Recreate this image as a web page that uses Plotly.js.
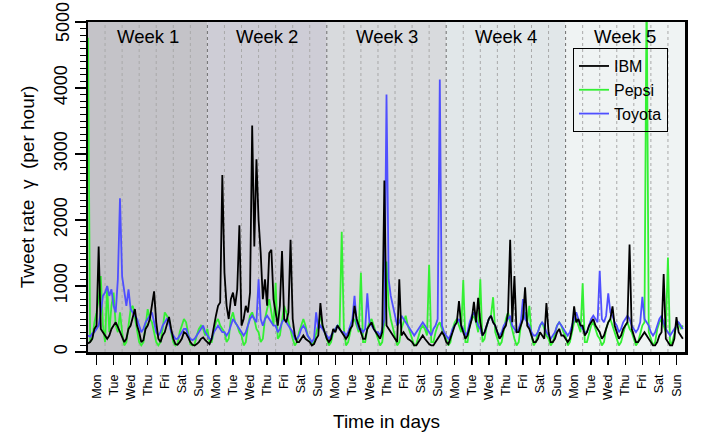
<!DOCTYPE html>
<html>
<head>
<meta charset="utf-8">
<script src="https://cdn.plot.ly/plotly-3.0.1.min.js"></script>
<style>
html, body { margin: 0; padding: 0; background: #fff; }
#chart { width: 706px; height: 441px; }
</style>
</head>
<body>
<div id="chart"></div>
<script>
// Hourly tweet rates sampled every 3 hours (8 samples per day), 35 days
var hoursPerSample = 3;
var dayNames = ['Mon', 'Tue', 'Wed', 'Thu', 'Fri', 'Sat', 'Sun'];
var weekLabels = ['Week 1', 'Week 2', 'Week 3', 'Week 4', 'Week 5'];
var weekColors = ['#c4c3c8', '#cecdd6', '#d8dadd', '#e1e7e9', '#eff3f3'];
var yTickVals = [0, 1000, 2000, 3000, 4000, 5000];
var yTickText = ['0', '1000', '2000', '3000', '4000', '5000'];

var ibm = [
  130, 150, 200, 350, 400, 1600, 350, 300,
  250, 200, 250, 350, 400, 450, 380, 300,
  250, 150, 200, 350, 400, 550, 650, 400,
  300, 150, 180, 350, 400, 500, 700, 920,
  450, 200, 150, 250, 300, 400, 530, 350,
  200, 120, 110, 150, 200, 300, 280, 220,
  150, 110, 100, 120, 150, 200, 220, 180,
  150, 120, 200, 400, 550, 700, 750, 2680,
  1200, 700, 500, 800, 900, 700, 950, 1920,
  400, 500, 700, 600, 900, 3430, 1600, 2920,
  2000, 1500, 800, 1100, 700, 1500, 1550, 800,
  600, 400, 700, 1530, 500, 450, 600, 1700,
  500, 250, 150, 150, 200, 250, 200, 180,
  150, 100, 120, 200, 250, 740, 400, 300,
  200, 150, 200, 350, 300, 400, 350, 300,
  250, 200, 250, 350, 400, 700, 500, 400,
  300, 200, 200, 350, 400, 450, 350, 300,
  250, 200, 300, 2600, 400, 350, 300, 250,
  200, 150, 1100, 250, 300, 250, 200, 180,
  150, 100, 100, 150, 200, 250, 200, 150,
  120, 100, 100, 150, 200, 250, 300, 250,
  150, 120, 200, 300, 400, 450, 770, 400,
  300, 200, 250, 400, 500, 760, 450, 820,
  450, 250, 300, 400, 500, 550, 450, 400,
  300, 200, 250, 350, 400, 600, 1700, 450,
  1150, 300, 300, 400, 500, 980, 400, 350,
  250, 150, 150, 200, 300, 250, 200, 740,
  300, 150, 150, 200, 300, 350, 250, 250,
  200, 150, 200, 350, 690, 450, 500, 400,
  400, 250, 300, 400, 450, 500, 400, 350,
  300, 200, 250, 350, 450, 500, 690, 400,
  300, 200, 250, 350, 400, 450, 1630, 350,
  250, 150, 150, 200, 250, 300, 250, 200,
  150, 100, 100, 150, 250, 300, 1180, 200,
  150, 100, 100, 200, 530, 300, 250, 200
];

var pepsi = [
  4760, 150, 200, 450, 600, 800, 1150, 400,
  150, 1000, 300, 700, 900, 400, 300, 600,
  300, 100, 150, 400, 650, 700, 500, 300,
  150, 100, 150, 400, 650, 500, 450, 300,
  150, 100, 150, 350, 600, 550, 500, 300,
  150, 100, 120, 300, 400, 500, 450, 250,
  120, 100, 120, 250, 350, 400, 350, 250,
  350, 150, 150, 300, 450, 500, 400, 350,
  300, 150, 200, 500, 600, 450, 400, 300,
  250, 100, 150, 400, 550, 600, 500, 350,
  300, 150, 200, 500, 650, 800, 600, 400,
  1050, 200, 250, 500, 700, 600, 450, 300,
  200, 100, 150, 300, 400, 500, 400, 250,
  200, 100, 150, 300, 450, 550, 400, 300,
  200, 100, 150, 300, 350, 400, 350, 1820,
  350, 100, 150, 300, 450, 500, 400, 300,
  1200, 150, 150, 350, 450, 500, 400, 300,
  200, 100, 150, 450, 1370, 700, 500, 350,
  250, 100, 150, 350, 450, 550, 400, 300,
  200, 100, 120, 250, 350, 400, 350, 250,
  1320, 150, 150, 300, 400, 450, 350, 250,
  200, 100, 150, 350, 450, 500, 400, 300,
  1090, 150, 150, 400, 500, 550, 450, 300,
  1100, 150, 200, 400, 500, 550, 830, 300,
  200, 100, 150, 350, 500, 600, 450, 300,
  200, 100, 150, 400, 550, 600, 450, 700,
  250, 100, 150, 300, 400, 450, 350, 250,
  200, 100, 150, 300, 400, 450, 400, 300,
  250, 100, 150, 300, 450, 500, 400, 300,
  1040, 150, 150, 300, 400, 450, 350, 250,
  200, 100, 150, 350, 450, 500, 400, 300,
  200, 100, 150, 300, 400, 450, 350, 300,
  200, 100, 150, 300, 400, 450, 5600, 300,
  200, 100, 150, 350, 450, 500, 400, 300,
  1430, 100, 150, 300, 400, 450, 350, 400
];

var toyota = [
  250, 230, 280, 300, 350, 400, 600, 850,
  900, 1000, 850, 950, 700, 600, 1100, 2330,
  1150, 900, 700, 950, 650, 600, 550, 500,
  400, 300, 350, 450, 500, 550, 600, 450,
  300, 250, 300, 400, 450, 500, 450, 300,
  250, 200, 200, 250, 300, 350, 350, 250,
  200, 180, 200, 250, 300, 350, 400, 300,
  250, 200, 200, 300, 350, 400, 350, 300,
  300, 250, 300, 400, 500, 450, 400, 350,
  300, 250, 300, 400, 500, 550, 500, 450,
  1100, 500, 400, 500, 550, 500, 450, 400,
  400, 300, 350, 450, 500, 450, 400, 350,
  300, 200, 200, 250, 350, 400, 350, 250,
  200, 150, 200, 600, 350, 400, 350, 300,
  250, 200, 250, 300, 350, 400, 350, 300,
  300, 250, 300, 400, 500, 850, 450, 350,
  350, 300, 350, 890, 450, 400, 350, 300,
  300, 250, 350, 500, 3900, 1100, 850, 700,
  600, 400, 450, 550, 500, 450, 400, 350,
  300, 250, 300, 350, 400, 450, 400, 350,
  300, 250, 350, 400, 500, 4130, 400, 300,
  250, 200, 250, 350, 400, 450, 500, 400,
  350, 250, 300, 450, 550, 600, 500, 400,
  350, 250, 300, 400, 500, 550, 450, 400,
  300, 250, 300, 400, 450, 500, 550, 400,
  350, 300, 350, 450, 800, 500, 450, 400,
  300, 250, 250, 300, 400, 450, 400, 300,
  250, 200, 250, 300, 400, 450, 400, 350,
  300, 250, 300, 400, 500, 600, 500, 400,
  350, 300, 300, 400, 500, 550, 500, 450,
  1230, 500, 450, 550, 890, 600, 550, 450,
  400, 300, 350, 450, 500, 550, 500, 400,
  350, 300, 350, 450, 835, 500, 450, 400,
  300, 250, 300, 400, 500, 550, 450, 350,
  300, 250, 300, 350, 400, 450, 400, 350
];

var nDays = weekLabels.length * dayNames.length;
function timeAxis(values) {
  return values.map(function (v, i) { return i * hoursPerSample / 24; });
}

var tickVals = [], tickText = [];
for (var d = 0; d < nDays; d++) {
  tickVals.push(d + 0.5);
  tickText.push(dayNames[d % 7]);
}

var FONT = 'Liberation Sans, Arial, Helvetica, sans-serif';

var traces = [
  { x: timeAxis(pepsi), y: pepsi, name: 'Pepsi', type: 'scatter', mode: 'lines',
    line: { color: '#33f033', width: 1.8 }, legendrank: 2 },
  { x: timeAxis(toyota), y: toyota, name: 'Toyota', type: 'scatter', mode: 'lines',
    line: { color: '#4f4fff', width: 1.8 }, legendrank: 3 },
  { x: timeAxis(ibm), y: ibm, name: 'IBM', type: 'scatter', mode: 'lines',
    line: { color: '#000000', width: 1.8 }, legendrank: 1 }
];

var shapes = [];
var annotations = [];
weekLabels.forEach(function (lbl, w) {
  shapes.push({ type: 'rect', xref: 'x', yref: 'paper', x0: w * 7, x1: (w + 1) * 7, y0: 0, y1: 1,
    fillcolor: weekColors[w], line: { width: 0 }, layer: 'below' });
  annotations.push({ x: w * 7 + 3.5, y: 0.955, xref: 'x', yref: 'paper', text: lbl, showarrow: false,
    xanchor: 'center', yanchor: 'middle', font: { family: FONT, size: 18.5, color: '#000' } });
});
for (var b = 1; b < nDays; b++) {
  var isWeek = (b % 7 === 0);
  shapes.push({ type: 'line', xref: 'x', yref: 'paper', x0: b, x1: b, y0: 0, y1: 1, layer: 'below',
    line: { color: isWeek ? '#6e6e6e' : '#a9a9a9', width: 1, dash: 'dot' } });
}

// The top y tick label sits on the plot edge, where Plotly drops it; draw it as text at its tick value.
var axisTickText = yTickText.slice();
var topIdx = yTickVals.length - 1;
axisTickText[topIdx] = '';
annotations.push({ x: -0.0419, xref: 'paper', y: yTickVals[topIdx], yref: 'y', text: yTickText[topIdx],
  showarrow: false, textangle: -90, xanchor: 'center', yanchor: 'middle',
  font: { family: FONT, size: 18, color: '#000' } });

var layout = {
  width: 706, height: 441,
  margin: { l: 88, r: 21, t: 22, b: 89 },
  paper_bgcolor: '#ffffff', plot_bgcolor: '#ffffff',
  font: { family: FONT, color: '#000' },
  showlegend: true,
  legend: { x: 0.8124, y: 0.921, xanchor: 'left', yanchor: 'top', bgcolor: 'rgba(0,0,0,0)',
    bordercolor: '#000', borderwidth: 1, font: { family: FONT, size: 16 }, tracegroupgap: 0 },
  xaxis: {
    range: [0, nDays], showgrid: false, zeroline: false,
    tickmode: 'array', tickvals: tickVals, ticktext: tickText, tickangle: -90,
    ticks: 'outside', ticklen: 10, tickwidth: 1.5, tickcolor: '#000',
    ticklabelstandoff: 5,
    tickfont: { family: FONT, size: 12.5 },
    showline: true, mirror: true, linewidth: 2.5, linecolor: '#000',
    title: { text: 'Time in days', font: { family: FONT, size: 19 }, standoff: 16 }
  },
  yaxis: {
    range: [0, 5000], showgrid: false, zeroline: false,
    tickmode: 'array', tickvals: yTickVals, ticktext: axisTickText, tickangle: -90,
    ticks: 'outside', ticklen: 11, tickwidth: 1.5, tickcolor: '#000',
    minor: { dtick: 100, ticklen: 6, tickwidth: 1, tickcolor: '#000', ticks: 'outside', showgrid: false },
    tickfont: { family: FONT, size: 18 },
    showline: true, mirror: true, linewidth: 2.5, linecolor: '#000',
    title: { text: 'Tweet rate\u00a0\u00a0\u03b3\u00a0\u00a0(per hour)', font: { family: FONT, size: 19 }, standoff: 12 }
  },
  shapes: shapes,
  annotations: annotations
};

Plotly.newPlot('chart', traces, layout, { staticPlot: true, displayModeBar: false });
</script>
</body>
</html>
